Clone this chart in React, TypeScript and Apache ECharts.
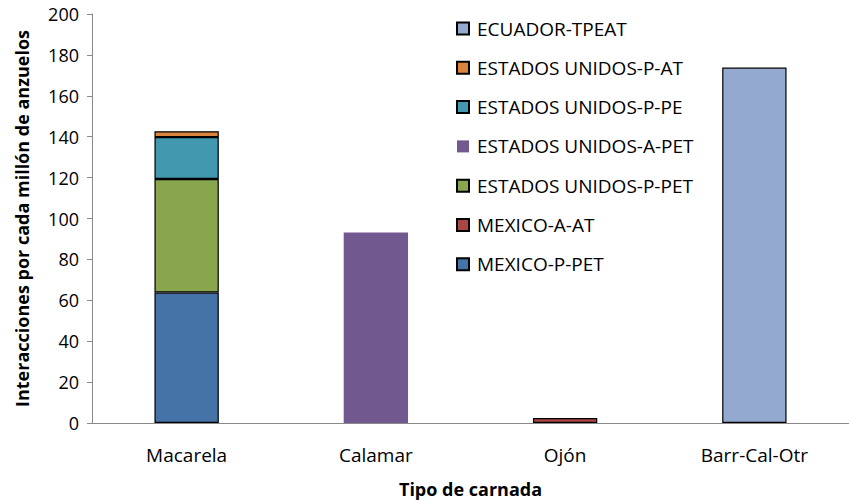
import React, { useEffect, useRef } from "react";
import * as echarts from "echarts";

const categories = ["Macarela", "Calamar", "Ojón", "Barr-Cal-Otr"];
const mexicoPPET = [63.8, null, null, null];
const mexicoAAT = [null, null, 2.4, null];
const euPPET = [55.5, null, null, null];
const euAPET = [null, 93.2, null, null];
const euPPE = [20.5, null, null, null];
const euPAT = [2.9, null, null, null];
const ecuadorTPEAT = [null, null, null, 173.8];
const yTicks = [0, 20, 40, 60, 80, 100, 120, 140, 160, 180, 200];

const FONT = "'Open Sans', 'Noto Sans', sans-serif";

export default function App() {
  const ref = useRef<HTMLDivElement>(null);
  useEffect(() => {
    const chart = echarts.init(ref.current!, null, { renderer: "svg" });
    const mk = (name: string, data: any[], color: string, border = true) => ({
      name,
      type: "bar",
      stack: "total",
      data,
      barWidth: "34%",
      itemStyle: {
        color,
        borderColor: border ? "#000" : color,
        borderWidth: border ? 1.2 : 0,
      },
    });
    chart.setOption({
      animation: false,
      textStyle: { fontFamily: FONT },
      grid: { left: 92, top: 14, width: 760, height: 414, containLabel: false },
      legend: {
        orient: "vertical",
        left: 451,
        top: 14,
        itemGap: 20.3,
        itemWidth: 12,
        itemHeight: 12,
        icon: "rect",
        textStyle: { fontSize: 19, lineHeight: 19, color: "#000", fontFamily: FONT, padding: [0, 0, 0, 3] },
        data: [
          "ECUADOR-TPEAT",
          "ESTADOS UNIDOS-P-AT",
          "ESTADOS UNIDOS-P-PE",
          "ESTADOS UNIDOS-A-PET",
          "ESTADOS UNIDOS-P-PET",
          "MEXICO-A-AT",
          "MEXICO-P-PET",
        ],
      },
      xAxis: {
        type: "category",
        data: categories,
        name: "Tipo de carnada",
        nameLocation: "middle",
        nameGap: 57,
        nameTextStyle: { fontWeight: "bold", fontSize: 18, color: "#000", fontFamily: FONT },
        axisLine: { lineStyle: { color: "#898989", width: 1 } },
        axisTick: { show: false },
        axisLabel: { fontSize: 19, color: "#000", margin: 22, fontFamily: FONT },
      },
      yAxis: {
        type: "value",
        min: 0,
        max: 200,
        interval: 20,
        name: "Interacciones por cada millón de anzuelos",
        nameLocation: "middle",
        nameGap: 61,
        nameTextStyle: { fontWeight: "bold", fontSize: 18, color: "#000", fontFamily: FONT },
        axisLine: { show: true, lineStyle: { color: "#898989", width: 1 } },
        axisTick: { show: true, length: 5, lineStyle: { color: "#898989" } },
        splitLine: { show: false },
        axisLabel: {
          fontSize: 18,
          color: "#000",
          margin: 13,
          fontFamily: FONT,
          formatter: (v: number) => (yTicks.includes(v) ? String(v) : ""),
        },
      },
      series: [
        mk("MEXICO-P-PET", mexicoPPET, "#4572A7"),
        mk("MEXICO-A-AT", mexicoAAT, "#AA4643"),
        mk("ESTADOS UNIDOS-P-PET", euPPET, "#89A54E"),
        mk("ESTADOS UNIDOS-A-PET", euAPET, "#71588F", false),
        mk("ESTADOS UNIDOS-P-PE", euPPE, "#4198AF"),
        mk("ESTADOS UNIDOS-P-AT", euPAT, "#DB843D"),
        mk("ECUADOR-TPEAT", ecuadorTPEAT, "#93A9CF"),
      ],
    });
    return () => chart.dispose();
  }, []);
  return <div ref={ref} style={{ width: 849, height: 503, position: "absolute", left: 0, top: 0 }} />;
}
